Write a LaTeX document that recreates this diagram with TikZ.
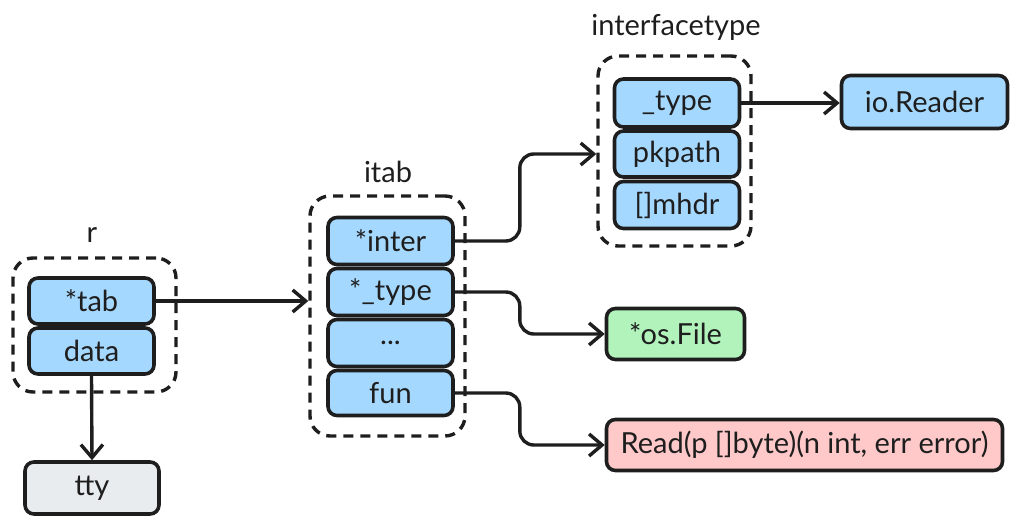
\documentclass[tikz,border=0pt]{standalone}
\usepackage{fontspec}
\setmainfont{Lato}
\usetikzlibrary{arrows.meta}
\definecolor{ink}{HTML}{1E1E1E}
\definecolor{fblue}{HTML}{A5D8FF}
\definecolor{fgreen}{HTML}{B2F2BB}
\definecolor{fred}{HTML}{FFC9C9}
\definecolor{fgray}{HTML}{E9ECEF}
\begin{document}
\begin{tikzpicture}[x=1pt,y=-1pt,
  every node/.style={text=ink},
  box/.style={draw=ink, line width=3.6pt, rounded corners=9pt, inner sep=0pt,
    minimum height=46pt, font=\fontsize{29}{34}\selectfont},
  field/.style={box, fill=fblue, minimum width=125pt},
  grp/.style={draw=ink, line width=3.4pt, dash pattern=on 10pt off 7pt, rounded corners=20pt, inner sep=0pt},
  lbl/.style={font=\fontsize{29}{34}\selectfont, inner sep=0pt},
  arr/.style={draw=ink, line width=3.4pt, -{Straight Barb[length=13pt,width=22pt,line width=3.4pt]}, rounded corners=14pt}
]
\useasboundingbox (0,0) rectangle (1019,526);

% r group
\node[grp, minimum width=163pt, minimum height=134pt] (rg) at (94.5,325) {};
\node[lbl] (rl) at (92,235) {r};
\node[field] (tab) at (91.5,301) {*tab};
\node[field] (data) at (91.5,351) {data};
\node[box, fill=fgray, minimum width=134pt, minimum height=52pt] (tty) at (92,488) {tty};

% itab group
\node[grp, minimum width=155pt, minimum height=240pt] (ig) at (387.5,316) {};
\node[lbl] (il) at (388,172) {itab};
\node[field, minimum height=47pt] (inter) at (390.5,241) {*inter};
\node[field, minimum height=47pt] (ty) at (390.5,292) {*\_type};
\node[field, minimum height=47pt] (dots) at (390.5,343) {...};
\node[field, minimum height=45pt] (fun) at (390.5,393) {fun};

% interfacetype group
\node[grp, minimum width=153pt, minimum height=190pt] (fg) at (674.5,151) {};
\node[lbl] (fl) at (676,27) {interfacetype};
\node[field, minimum height=48pt] (ftype) at (677,103) {\_type};
\node[field, minimum height=46pt] (pk) at (677,154) {pkpath};
\node[field, minimum height=47pt] (mh) at (677,205) {[]mhdr};

% targets
\node[box, fill=fblue, minimum width=166pt, minimum height=53pt] (rd) at (924.5,102) {io.Reader};
\node[box, fill=fgreen, minimum width=138pt, minimum height=51pt] (osf) at (675.5,334) {*os.File};
\node[box, fill=fred, minimum width=396pt, minimum height=51pt] (rdf) at (804.5,445) {Read(p []byte)(n int, err error)};

% connectors
\draw[arr] (data.south) -- (tty.north);
\draw[arr] (tab.east) -- (tab.east -| ig.west);
\draw[arr] (ftype.east) -- (ftype.east -| rd.west);
\draw[arr] (inter.east) -- ++(65,0) |- (fg.west |- pk);
\draw[arr] (ty.east) -- ++(65,0) |- (osf.west);
\draw[arr] (fun.east) -- ++(65,0) |- (rdf.west);
\end{tikzpicture}
\end{document}
